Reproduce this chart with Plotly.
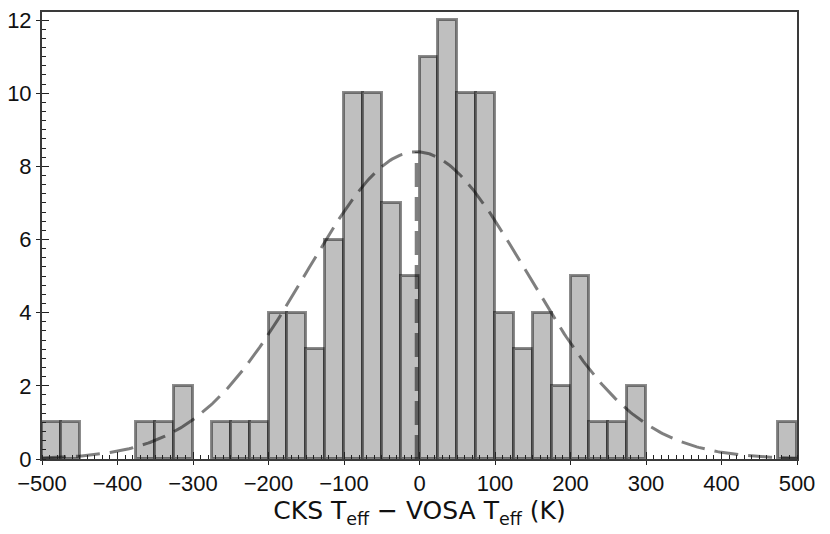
"""Histogram of CKS minus VOSA effective temperatures with a Gaussian fit."""

import numpy as np
import plotly.graph_objects as go

BIN_START = -500
BIN_WIDTH = 25
COUNTS = [1, 1, 0, 0, 0, 1, 1, 2, 0, 1,
          1, 1, 4, 4, 3, 6, 10, 10, 7, 5,
          11, 12, 10, 10, 4, 3, 4, 2, 5, 1,
          1, 2, 0, 0, 0, 0, 0, 0, 0, 1]

FIT_MEAN = -4.0
FIT_SIGMA = 146.0
FIT_PEAK = 8.4

X_TICKS = [-500, -400, -300, -200, -100, 0, 100, 200, 300, 400, 500]
Y_TICKS = [0, 2, 4, 6, 8, 10, 12]

EDGE = "rgba(0,0,0,0.45)"
FRAME = "#3a3a3a"

centers = [BIN_START + BIN_WIDTH * (i + 0.5) for i in range(len(COUNTS))]
heights = [c if c > 0 else None for c in COUNTS]

fig = go.Figure()
fig.add_trace(go.Bar(
    x=centers,
    y=heights,
    width=BIN_WIDTH,
    marker={"color": "#bfbfbf", "line": {"color": EDGE, "width": 3}},
    hoverinfo="x+y",
))

# Gaussian model curve from the fitted parameters
xs = np.linspace(-500, 500, 400)
ys = FIT_PEAK * np.exp(-((xs - FIT_MEAN) ** 2) / (2 * FIT_SIGMA ** 2))
fig.add_trace(go.Scatter(
    x=xs, y=ys, mode="lines",
    line={"color": "rgba(0,0,0,0.5)", "width": 3, "dash": "24px,10px"},
    hoverinfo="skip",
))
fig.add_trace(go.Scatter(
    x=[FIT_MEAN, FIT_MEAN], y=[0, FIT_PEAK], mode="lines",
    line={"color": "rgba(0,0,0,0.5)", "width": 3.5, "dash": "24px,10px"},
    hoverinfo="skip",
))

# invisible companion trace for the inward major ticks
fig.add_trace(go.Scatter(x=[0], y=[0], xaxis="x2", yaxis="y2",
                         mode="markers", marker={"opacity": 0}, hoverinfo="skip"))

axis_common = dict(
    showgrid=False, zeroline=False, showline=True, mirror=True,
    linecolor=FRAME, linewidth=2, automargin=False,
    ticks="outside", ticklen=4, tickwidth=1.2, tickcolor="#222",
    tickfont={"size": 22, "color": "#111"},
    ticklabeloverflow="allow",
)

# the page body adds an 8px offset, so the figure is sized to fit inside it
fig.update_layout(
    width=822,
    height=526,
    margin={"l": 34, "r": 33, "t": 4, "b": 75},
    paper_bgcolor="white",
    plot_bgcolor="white",
    showlegend=False,
    bargap=0,
    font={"family": "Liberation Sans, Arial, sans-serif", "color": "#111"},
    xaxis=dict(
        axis_common,
        range=[-500, 500],
        tickvals=X_TICKS,
        minor={"dtick": 10, "ticks": "inside", "ticklen": 4, "tickcolor": "#222", "tickwidth": 1},
        title={"text": "CKS T<sub>eff</sub> − VOSA T<sub>eff</sub> (K)",
               "font": {"size": 25, "color": "#111", "family": "DejaVu Sans, sans-serif"},
               "standoff": 6},
    ),
    yaxis=dict(
        axis_common,
        range=[0, 12.22],
        tickvals=Y_TICKS,
        minor={"dtick": 0.25, "ticks": "inside", "ticklen": 4, "tickcolor": "#222", "tickwidth": 1},
    ),
    xaxis2=dict(overlaying="x", matches="x", showgrid=False, zeroline=False,
                showticklabels=False, tickvals=X_TICKS, ticks="inside",
                ticklen=7, tickwidth=1.2, tickcolor="#222"),
    yaxis2=dict(overlaying="y", matches="y", showgrid=False, zeroline=False,
                showticklabels=False, tickvals=Y_TICKS, ticks="inside",
                ticklen=7, tickwidth=1.2, tickcolor="#222"),
)

fig.write_html("out.html")
